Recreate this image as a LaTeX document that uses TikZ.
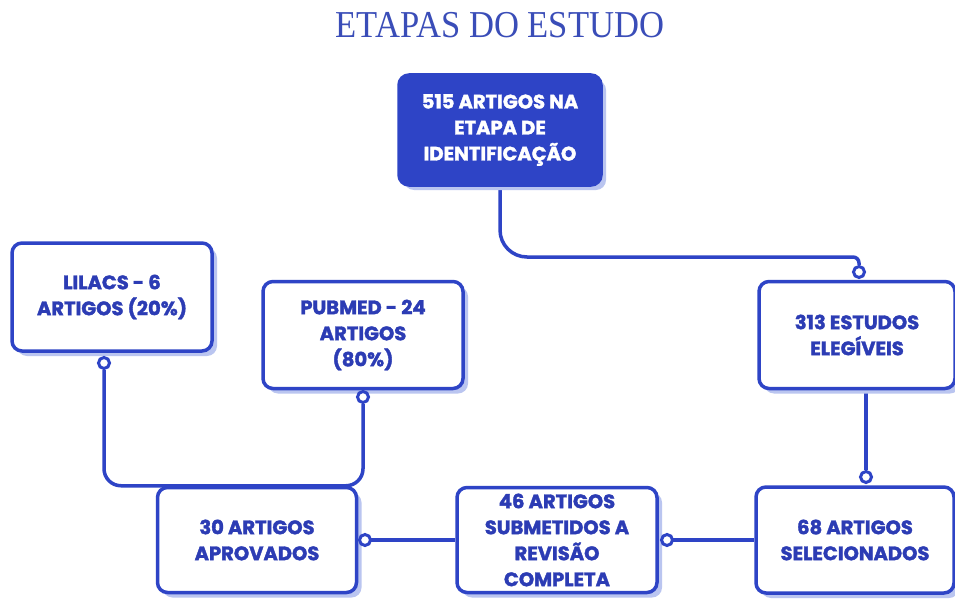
\documentclass[tikz,border=0pt]{standalone}
\usepackage{fontspec}
\usepackage{graphicx}
\usetikzlibrary{shadows,backgrounds}
\newfontfamily\titlefont{Liberation Serif}
\newfontfamily\boxfont{Poppins}[BoldFeatures={FakeBold=1.8}]
\definecolor{mainblue}{HTML}{2E44C6}
\definecolor{textblue}{HTML}{2C3CB4}
\definecolor{shadowblue}{HTML}{BAC5F0}
\definecolor{titleblue}{HTML}{3A4DB8}
\begin{document}
\begin{tikzpicture}[x=1pt,y=-1pt,
  stagebox/.style={draw=mainblue, line width=3.5pt, rounded corners=10pt, fill=white, align=center, text=textblue,
    font=\boxfont\bfseries\fontsize{19.5}{26}\selectfont, inner sep=0pt,
    drop shadow={shadow xshift=5pt, shadow yshift=-5pt, fill=shadowblue, opacity=1}},
  mainbox/.style={stagebox, fill=mainblue, text=white},
  link/.style={draw=mainblue, line width=3.5pt},
  endpoint/.style={circle, draw=mainblue, fill=white, line width=3pt, inner sep=0pt, minimum size=11pt}
]
\useasboundingbox (0,0) rectangle (955,599);

\node[font=\titlefont\fontsize{38}{40}\selectfont, text=titleblue] (title) at (500,25) {\scalebox{0.91}[1]{ETAPAS DO ESTUDO}};

\node[mainbox, minimum width=202pt, minimum height=110pt] (ident) at (500,130) {515 ARTIGOS NA\\ETAPA DE\\IDENTIFICAÇÃO};
\node[stagebox, minimum width=196pt, minimum height=107pt] (eleg) at (857,335) {313 ESTUDOS\\ELEGÍVEIS};
\node[stagebox, minimum width=198pt, minimum height=106pt] (sel) at (855,540) {68 ARTIGOS\\SELECIONADOS};
\node[stagebox, minimum width=200pt, minimum height=105pt] (rev) at (557,540) {46 ARTIGOS\\SUBMETIDOS A\\REVISÃO\\COMPLETA};
\node[stagebox, minimum width=199pt, minimum height=105pt] (apr) at (257,540) {30 ARTIGOS\\APROVADOS};
\node[stagebox, minimum width=200pt, minimum height=108pt] (lil) at (112,297) {LILACS - 6\\ARTIGOS (20\%)};
\node[stagebox, minimum width=200pt, minimum height=107pt] (pub) at (363,335) {PUBMED - 24\\ARTIGOS\\(80\%)};

\node[endpoint] (e1) at (859,272) {};
\node[endpoint] (e2) at (866,477) {};
\node[endpoint] (e3) at (667,540) {};
\node[endpoint] (e4) at (365,540) {};
\node[endpoint] (e5) at (104,363) {};
\node[endpoint] (e6) at (363,397) {};

\coordinate (bend) at (680,257);

\begin{scope}[on background layer]
\fill[white] (0,0) rectangle (955,599);
\draw[link, rounded corners=27pt] (ident.south) |- (bend) [rounded corners=6pt] -| (e1.north);
\draw[link] (e2 |- eleg.south) -- (e2.north);
\draw[link] (rev.east) -- (sel.west);
\draw[link] (apr.east) -- (rev.west);
\draw[link, rounded corners=17pt] (e5.south) |- (apr.north) -| (e6.south);
\end{scope}
\end{tikzpicture}
\end{document}
